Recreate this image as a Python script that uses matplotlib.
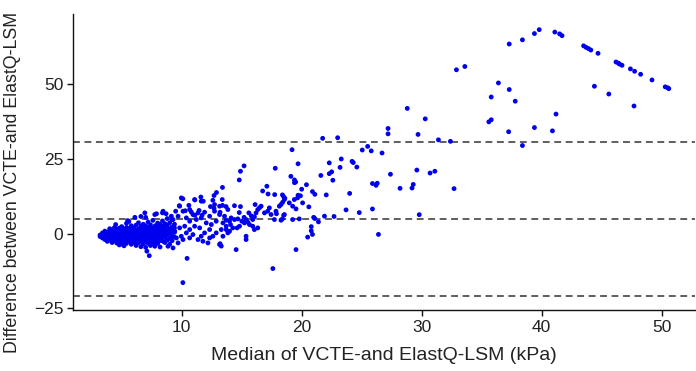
import matplotlib
matplotlib.use('Agg')
import matplotlib.pyplot as plt
import numpy as np

plt.rcParams['font.family'] = ['Liberation Sans', 'DejaVu Sans']

# Bland-Altman limits (kPa)
bias = 4.9
upper_loa = 30.6
lower_loa = -20.9

# (median, difference)
# dense low-stiffness cluster
cluster = [
    (3.2, -1.0), (3.2, -0.5),
    (3.4, -1.5), (3.4, -0.3), (3.4, 0.2),
    (3.6, -2.0), (3.6, -1.0), (3.6, 0.0), (3.6, 0.8),
    (3.8, -1.8), (3.8, -0.7), (3.8, 0.4), (3.8, -2.6),
    (4.0, -2.2), (4.0, -1.2), (4.0, -0.2), (4.0, 0.9), (4.0, 1.6),
    (4.2, -3.0), (4.2, -1.6), (4.2, -0.6), (4.2, 0.3), (4.2, 1.2),
    (4.4, -2.5), (4.4, -1.0), (4.4, 0.0), (4.4, 0.7), (4.4, 2.0), (4.5, 3.0),
    (4.6, -3.2), (4.6, -1.9), (4.6, -0.8), (4.6, 0.2), (4.6, 1.4),
    (4.8, -2.7), (4.8, -1.3), (4.8, -0.3), (4.8, 0.6), (4.8, 1.8), (4.8, -3.8),
    (5.0, -3.5), (5.0, -2.1), (5.0, -1.0), (5.0, 0.0), (5.0, 1.0), (5.0, 2.3),
    (5.2, -2.8), (5.2, -1.6), (5.2, -0.5), (5.2, 0.4), (5.2, 1.5), (5.2, -4.1),
    (5.4, -3.3), (5.4, -2.2), (5.4, -1.1), (5.4, 0.1), (5.4, 0.9), (5.4, 2.0), (5.4, 3.4),
    (5.5, 4.3),
    (5.6, -2.6), (5.6, -1.5), (5.6, -0.4), (5.6, 0.6), (5.6, 1.7), (5.6, 4.0),
    (5.8, -3.6), (5.8, -2.0), (5.8, -0.9), (5.8, 0.2), (5.8, 1.2), (5.8, 2.6),
    (6.0, -3.0), (6.0, -1.7), (6.0, -0.6), (6.0, 0.5), (6.0, 1.9), (6.1, 5.4),
    (6.2, -4.0), (6.2, -2.4), (6.2, -1.2), (6.2, -0.1), (6.2, 1.0), (6.2, 2.8),
    (6.4, -3.1), (6.4, -1.8), (6.4, -0.5), (6.4, 0.7), (6.4, 1.6), (6.4, 3.6),
    (6.6, -2.6), (6.6, -1.3), (6.6, 0.0), (6.6, 1.2), (6.6, 2.4), (6.6, -4.4), (6.6, 5.7),
    (6.8, -3.4), (6.8, -2.0), (6.8, -0.7), (6.8, 0.5), (6.8, 1.8), (6.8, 3.1),
    (7.0, -4.6), (7.0, -2.8), (7.0, -1.4), (7.0, -0.2), (7.0, 1.1), (7.0, 2.5),
    (7.0, 5.4), (7.1, -5.9),
    (7.2, -3.2), (7.2, -1.9), (7.2, -0.6), (7.2, 0.8), (7.2, 2.0), (7.2, 3.8),
    (7.3, -7.4),
    (7.4, -2.5), (7.4, -1.0), (7.4, 0.3), (7.4, 1.5), (7.4, 2.9), (7.4, -4.0),
    (7.6, -3.6), (7.6, -2.1), (7.6, -0.8), (7.6, 0.6), (7.6, 1.9), (7.6, 4.4),
    (7.8, -2.7), (7.8, -1.2), (7.8, 0.1), (7.8, 1.3), (7.8, 2.6), (7.9, 6.6),
    (8.0, -3.3), (8.0, -1.8), (8.0, -0.4), (8.0, 0.9), (8.0, 2.2), (8.0, 3.5),
    (8.2, -2.4), (8.2, -0.9), (8.2, 0.4), (8.2, 1.7), (8.2, 3.0), (8.2, -4.5),
    (8.4, -1.6), (8.4, -0.2), (8.4, 1.1), (8.4, 2.4), (8.4, 6.9), (8.4, 4.2),
    (8.6, -3.0), (8.6, -1.1), (8.6, 0.6), (8.6, 1.9), (8.6, 3.3), (8.7, 6.6),
    (8.8, -2.2), (8.8, -0.5), (8.8, 1.0), (8.8, 2.7), (8.8, 5.0),
    (9.0, -1.4), (9.0, 0.2), (9.0, 1.6), (9.0, 3.6), (9.0, -3.6),
    (9.2, -2.4), (9.2, -0.8), (9.2, 0.8), (9.2, 2.2), (9.2, 4.6),
    (9.4, -1.2), (9.4, 0.4), (9.4, 1.9), (9.4, 3.1),
]

# spread 9.5-20 kPa
middle = [
    (9.97, 11.9), (11.08, 11.35), (11.63, 10.8), (12.74, 9.68), (13.16, 9.13),
    (13.38, 11.35), (13.85, 8.01), (9.83, 9.13), (9.5, 7.45), (10.11, 7.45),
    (10.67, 8.01), (10.94, 6.34), (11.36, 6.9), (11.91, 7.12), (12.33, 5.78),
    (12.74, 7.45), (13.16, 6.34), (13.57, 5.78), (6.93, 6.9), (7.76, 6.34),
    (8.45, 7.45), (9.14, 5.78), (9.28, 4.67), (9.7, 5.78), (10.39, 5.22),
    (10.67, 4.11), (11.22, 4.67), (11.63, 5.22), (12.05, 3.55), (12.47, 3.0),
    (12.88, 4.11), (13.44, 3.55), (13.71, 2.44), (13.3, 1.32), (12.88, 0.21),
    (12.33, 1.32), (11.91, 0.21), (11.5, 1.88), (11.08, 2.44), (10.67, 1.32),
    (10.25, 2.44), (9.83, 1.88), (9.42, 0.76), (9.0, 1.32), (8.59, 0.21),
    (8.17, -0.91), (8.45, -2.58), (8.86, -4.25), (9.28, -4.81), (7.76, -4.25),
    (7.34, -3.14), (9.7, -3.14), (10.11, -2.02), (10.67, -1.47), (11.36, -2.02),
    (11.77, -2.58), (12.33, -1.47), (13.16, -3.7), (10.45, -8.3), (10.94, -0.35),
    (11.63, -0.91), (12.6, -0.91), (12.19, -3.14), (13.44, -0.91), (13.85, 0.21),
    (10.39, 0.21), (9.97, -0.91), (9.56, -1.47), (9.14, -2.02), (10.1, -16.4),
    (10.1, 11.6), (9.8, 9.3), (11.1, 11.2), (11.6, 12.2), (11.8, 10.8),
    (10.6, 9.4), (10.3, 7.6), (10.8, 7.2), (11.1, 6.1), (11.45, 7.7), (11.7, 6.1),
    (12.4, 9.0), (12.7, 8.4), (13.2, 7.1), (13.4, 9.4),
    (15.2, 22.6), (14.9, 20.8), (14.8, 17.9), (13.4, 15.4), (12.9, 13.7),
    (12.7, 12.7), (12.6, 11.1), (17.1, 15.8), (16.75, 14.2), (17.2, 13.2),
    (13.3, -4.2), (13.2, -3.4),
    (13.7, 9.0), (14.4, 9.3), (14.9, 9.0), (14.8, 7.0), (14.12, 5.22),
    (13.99, 4.11), (13.71, 4.44), (14.4, 4.67), (14.68, 4.89), (14.07, 3.0),
    (14.26, 1.88), (14.62, 1.88), (13.71, 1.32), (13.99, 0.76), (14.82, 2.44),
    (15.01, 4.11), (15.23, 3.55), (15.37, 4.67), (15.51, 3.77), (15.65, 3.0),
    (15.92, 4.67), (16.06, 5.56), (16.2, 6.9), (16.34, 8.01), (16.48, 8.57),
    (16.62, 9.13), (16.12, 9.68), (16.9, 6.9), (17.17, 7.45), (17.31, 8.57),
    (17.86, 7.45), (18.14, 9.13), (18.28, 9.68), (18.42, 10.46), (18.56, 11.35),
    (18.56, 6.34), (18.97, 10.24), (19.25, 9.13), (19.39, 11.35), (19.53, 8.23),
    (19.66, 11.91), (20.08, 10.24), (15.92, 2.44), (16.06, 1.32), (16.34, 1.88),
    (15.37, -0.91), (15.37, -2.02), (14.54, -5.37), (19.53, -5.37), (17.45, 6.34),
    (17.73, 4.67), (18.28, 4.44), (19.25, 4.67), (19.8, 4.89), (15.2, 5.4),
    (15.6, 6.9), (15.8, 5.9),
]

# high-stiffness tail, 17-51 kPa
upper = [
    (21.75, 31.8), (23.0, 32.0), (19.2, 28.0), (25.05, 27.9), (25.5, 29.1),
    (25.8, 27.6), (19.7, 23.3), (23.3, 24.9), (22.3, 23.6), (24.2, 24.1),
    (24.3, 23.7), (24.6, 22.2), (23.2, 22.1), (17.8, 21.8), (19.1, 19.1),
    (19.4, 17.9), (19.5, 17.2), (19.4, 17.0), (21.6, 19.4), (22.3, 20.0),
    (22.5, 20.6), (22.6, 17.8), (20.4, 16.3), (20.0, 14.8), (20.9, 14.0),
    (21.1, 13.1), (22.05, 12.9), (24.0, 13.4), (17.75, 13.0), (18.4, 12.9),
    (18.5, 12.3), (18.6, 11.8), (19.7, 12.8), (19.9, 12.6), (20.6, 8.9),
    (17.9, 6.6), (18.5, 6.1), (18.4, 4.9), (21.0, 5.4), (21.1, 5.0),
    (21.4, 3.9), (21.9, 5.8), (22.7, 5.7), (23.7, 7.9), (24.8, 7.0),
    (20.8, 2.3), (20.8, 0.9), (20.9, -0.3), (20.5, -1.2), (17.6, -11.7),
    (37.3, 63.3), (38.4, 64.7), (39.4, 66.8), (39.8, 68.1), (41.1, 67.3),
    (41.5, 66.7), (41.7, 66.1), (43.5, 62.7), (43.7, 62.2), (43.9, 61.8),
    (44.1, 61.3), (44.7, 60.2), (46.2, 57.3), (46.4, 56.9), (46.5, 56.6),
    (46.7, 56.2), (47.4, 55.0), (47.75, 54.2), (48.25, 53.2), (49.2, 51.3),
    (50.3, 49.0), (50.5, 48.7), (50.6, 48.4), (44.4, 49.2), (45.6, 46.6),
    (47.7, 42.6), (32.9, 54.7), (33.6, 55.8), (36.4, 50.3), (37.3, 48.1),
    (35.8, 45.6), (37.8, 44.2), (35.6, 37.3), (35.8, 38.0), (37.25, 34.0),
    (38.4, 29.4), (39.4, 35.4), (40.9, 34.3), (41.2, 39.9), (28.8, 41.8),
    (30.3, 38.3), (27.2, 35.1), (27.2, 33.3), (29.7, 33.1), (31.4, 31.3),
    (32.4, 30.8), (26.7, 26.9), (27.4, 19.8), (25.9, 16.7), (26.2, 16.1),
    (26.3, 16.8), (29.6, 21.2), (30.7, 20.2), (31.1, 20.8), (28.2, 15.1),
    (29.2, 15.2), (29.3, 16.4), (32.7, 15.0), (25.9, 8.2), (29.8, 6.3),
    (26.4, -0.3),
]

points = np.array(cluster + middle + upper)

fig = plt.figure(figsize=(6.96, 3.71), dpi=100)
ax = fig.add_axes([0.105, 0.164, 0.893, 0.798])

text_col = '#222222'
for level in (upper_loa, bias, lower_loa):
    ax.axhline(level, color='#333333', lw=1.1, ls=(0, (4.5, 3)), zorder=1)

ax.scatter(points[:, 0], points[:, 1], s=12, color='#0000ee',
           edgecolors='none', zorder=2)

ax.set_xlim(0.95, 52.75)
ax.set_ylim(-25.6, 73.3)
ax.set_xticks([10, 20, 30, 40, 50])
ax.set_yticks([-25, 0, 25, 50])

for side in ('top', 'right'):
    ax.spines[side].set_visible(False)
for side in ('left', 'bottom'):
    ax.spines[side].set_linewidth(1.0)
    ax.spines[side].set_color('#111111')
ax.tick_params(length=4, width=1.0, color='#111111', labelsize=12.5,
               labelcolor=text_col, pad=3)

ax.set_xlabel('Median of VCTE-and ElastQ-LSM (kPa)', fontsize=14,
              color=text_col, labelpad=9)
ax.set_ylabel('Difference between VCTE-and ElastQ-LSM', fontsize=12.8,
              color=text_col)
ax.yaxis.set_label_coords(-0.084, 0.432)

fig.savefig('out.png', dpi=100)
